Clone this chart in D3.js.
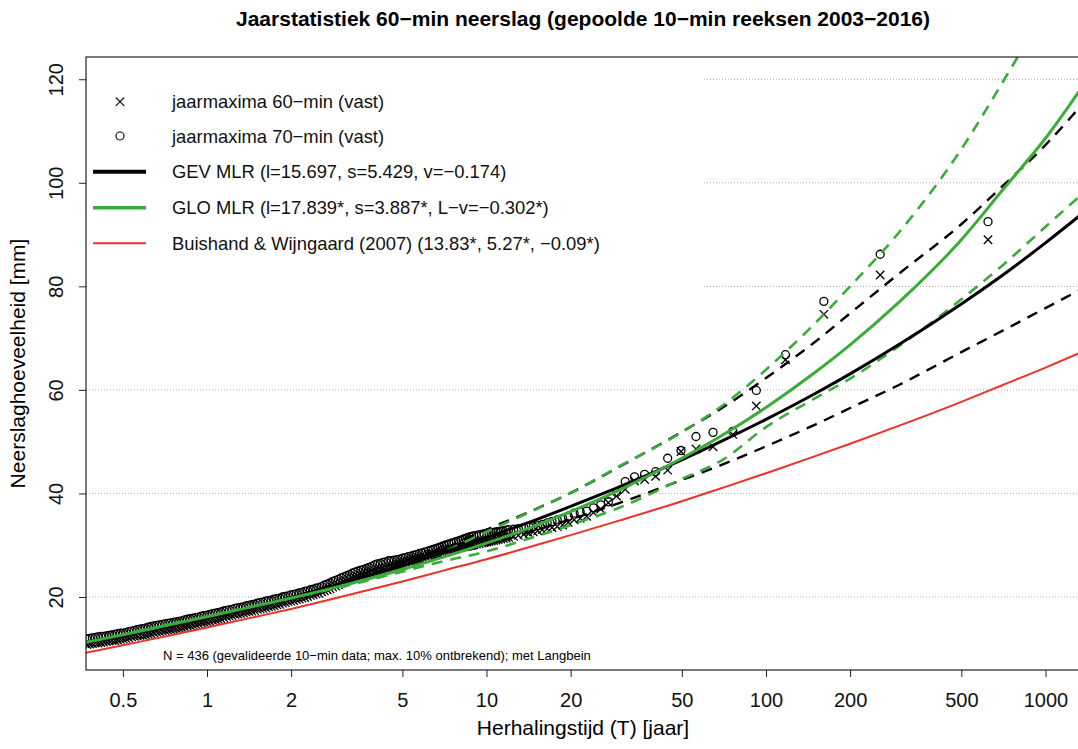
<!DOCTYPE html>
<html>
<head>
<meta charset="utf-8">
<script src="https://cdn.jsdelivr.net/npm/d3@7"></script>
<style>
  body { margin: 0; background: #fff; }
  svg { display: block; font-family: "Liberation Sans", Arial, Helvetica, sans-serif; }
</style>
</head>
<body>
<svg width="1078" height="749"></svg>
<script>
// ---- data ----
var xTicks = [0.5, 1, 2, 5, 10, 20, 50, 100, 200, 500, 1000],
    yTicks = [20, 40, 60, 80, 100, 120];

// plotting positions of the annual maxima (T in jaar)
var ptT = [
  0.3715, 0.3802, 0.3890, 0.3981, 0.4074, 0.4169, 0.4266, 0.4365, 0.4467, 0.4571,
  0.4677, 0.4786, 0.4898, 0.5012, 0.5129, 0.5248, 0.5370, 0.5495, 0.5623, 0.5754,
  0.5888, 0.6026, 0.6166, 0.6310, 0.6457, 0.6607, 0.6761, 0.6918, 0.7079, 0.7244,
  0.7413, 0.7586, 0.7762, 0.7943, 0.8128, 0.8318, 0.8511, 0.8710, 0.8913, 0.9120,
  0.9333, 0.9550, 0.9772, 1.000, 1.023, 1.047, 1.072, 1.096, 1.122, 1.148,
  1.175, 1.202, 1.230, 1.259, 1.288, 1.318, 1.349, 1.380, 1.413, 1.445,
  1.479, 1.514, 1.549, 1.585, 1.622, 1.660, 1.698, 1.738, 1.778, 1.820,
  1.862, 1.905, 1.950, 1.995, 2.042, 2.089, 2.138, 2.188, 2.239, 2.291,
  2.344, 2.399, 2.455, 2.512, 2.570, 2.630, 2.692, 2.754, 2.818, 2.884,
  2.951, 3.020, 3.090, 3.162, 3.236, 3.311, 3.388, 3.467, 3.548, 3.631,
  3.715, 3.802, 3.890, 3.981, 4.074, 4.169, 4.266, 4.365, 4.467, 4.571,
  4.677, 4.786, 4.898, 5.012, 5.129, 5.248, 5.370, 5.495, 5.623, 5.754,
  5.888, 6.026, 6.20, 6.33, 6.45, 6.58, 6.70, 6.83, 6.95, 7.08,
  7.20, 7.35, 7.50, 7.65, 7.80, 7.95, 8.10, 8.25, 8.40, 8.55,
  8.70, 8.85, 9.00, 9.20, 9.40, 9.60, 9.80, 10.0, 10.2, 10.4,
  10.6, 10.8, 11.0, 11.25, 11.5, 11.75, 12.0, 12.5, 13.0, 13.6,
  14.2, 14.70, 15.25, 15.84, 16.48, 17.16, 17.91, 18.72, 19.61, 20.58,
  21.64, 22.83, 24.15, 25.63, 27.29, 29.19, 31.35, 33.86, 36.80, 40.28,
  44.49, 49.66, 56.17, 64.63, 76.06, 92.35, 117.4, 161.1, 256.2, 622.9
];

// jaarmaxima 60-min (vast), mm
var max60 = [
  10.8, 10.9, 11.0, 11.1, 11.1, 11.2, 11.3, 11.4, 11.5, 11.6,
  11.6, 11.7, 11.8, 11.9, 12.0, 12.1, 12.3, 12.4, 12.5, 12.6,
  12.6, 12.7, 12.8, 12.9, 13.1, 13.2, 13.3, 13.4, 13.5, 13.6,
  13.7, 13.8, 13.9, 14.0, 14.1, 14.2, 14.4, 14.5, 14.6, 14.7,
  14.8, 15.0, 15.1, 15.2, 15.3, 15.5, 15.6, 15.7, 15.8, 16.0,
  16.2, 16.3, 16.4, 16.6, 16.7, 16.8, 16.9, 17.1, 17.2, 17.3,
  17.4, 17.6, 17.7, 17.8, 17.9, 18.1, 18.2, 18.3, 18.5, 18.6,
  18.8, 18.9, 19.1, 19.2, 19.3, 19.5, 19.6, 19.8, 19.9, 20.1,
  20.3, 20.4, 20.6, 20.7, 21.0, 21.2, 21.4, 21.6, 21.9, 22.1,
  22.4, 22.7, 22.9, 23.1, 23.3, 23.6, 23.8, 24.0, 24.2, 24.3,
  24.6, 24.8, 25.0, 25.1, 25.3, 25.4, 25.6, 25.7, 25.9, 26.0,
  26.2, 26.4, 26.5, 26.7, 26.8, 27.0, 27.1, 27.3, 27.4, 27.6,
  27.7, 27.9, 28.1, 28.25, 28.4, 28.5, 28.6, 28.7, 28.8, 28.9,
  29.0, 29.1, 29.2, 29.3, 29.4, 29.5, 29.6, 29.7, 29.8, 29.9,
  30.0, 30.05, 30.1, 30.2, 30.3, 30.4, 30.5, 30.6, 30.7, 30.8,
  30.9, 31.0, 31.1, 31.2, 31.3, 31.4, 31.5, 31.7, 31.9, 32.1,
  32.3, 32.6, 32.8, 33.0, 33.2, 33.4, 33.6, 33.9, 34.4, 34.9,
  35.2, 35.6, 36.3, 37.0, 38.2, 39.5, 40.8, 42.4, 42.7, 43.3,
  44.5, 48.1, 48.6, 49.0, 51.4, 56.9, 65.8, 74.6, 82.2, 89.0
];

// jaarmaxima 70-min (vast), mm
var max70 = [
  11.9, 12.0, 12.1, 12.2, 12.3, 12.4, 12.4, 12.5, 12.6, 12.7,
  12.8, 12.9, 13.0, 13.0, 13.1, 13.3, 13.4, 13.5, 13.7, 13.8,
  13.9, 14.0, 14.2, 14.3, 14.4, 14.5, 14.6, 14.7, 14.8, 14.9,
  15.0, 15.1, 15.2, 15.3, 15.4, 15.6, 15.7, 15.8, 15.9, 16.0,
  16.1, 16.3, 16.4, 16.5, 16.6, 16.8, 16.9, 17.0, 17.1, 17.3,
  17.4, 17.5, 17.6, 17.8, 17.9, 18.0, 18.1, 18.3, 18.4, 18.5,
  18.6, 18.8, 18.9, 19.0, 19.2, 19.3, 19.4, 19.6, 19.7, 19.8,
  20.0, 20.1, 20.2, 20.4, 20.5, 20.6, 20.8, 20.9, 21.1, 21.2,
  21.4, 21.5, 21.7, 21.8, 22.0, 22.3, 22.5, 22.7, 23.0, 23.2,
  23.4, 23.7, 23.9, 24.1, 24.3, 24.6, 24.8, 25.0, 25.2, 25.3,
  25.5, 25.7, 25.9, 26.2, 26.4, 26.5, 26.7, 26.8, 27.0, 27.0,
  27.1, 27.2, 27.3, 27.5, 27.6, 27.8, 27.9, 28.1, 28.2, 28.4,
  28.5, 28.7, 28.9, 29.05, 29.2, 29.35, 29.5, 29.65, 29.8, 29.95,
  30.1, 30.25, 30.4, 30.55, 30.7, 30.85, 31.0, 31.15, 31.3, 31.45,
  31.6, 31.7, 31.8, 31.9, 32.0, 32.1, 32.2, 32.3, 32.4, 32.45,
  32.5, 32.55, 32.6, 32.7, 32.8, 32.9, 33.0, 33.1, 33.2, 33.4,
  33.5, 33.6, 33.8, 34.0, 34.3, 34.6, 34.9, 35.2, 35.6, 36.2,
  36.4, 36.6, 37.2, 37.8, 38.4, 40.2, 42.3, 43.2, 43.7, 44.2,
  46.8, 48.3, 51.0, 51.8, 52.0, 59.9, 66.8, 77.1, 86.2, 92.5
];

// fitted curves, read at these return periods
var curveT = [0.35, 0.5, 0.7, 1, 1.5, 2, 3, 5, 7, 10, 15, 20, 30, 50, 70, 100, 150, 200, 300, 500, 700, 1000, 1500];
var gev   = [11.0, 12.6, 14.2, 16.0, 18.2, 19.9, 22.5, 26.0, 28.6, 31.5, 34.9, 37.5, 41.3, 46.5, 50.2, 54.3, 59.3, 63.1, 68.8, 76.6, 82.1, 88.4, 96.0];
var gevHi = [11.0, 12.6, 14.2, 16.0, 18.2, 19.9, 22.7, 26.4, 29.3, 33.0, 37.0, 40.1, 45.2, 51.9, 56.6, 62.3, 69.3, 74.8, 82.5, 92.0, 99.3, 107.3, 118.0];
var gevLo = [11.0, 12.6, 14.2, 16.0, 18.2, 19.9, 22.3, 25.6, 27.9, 30.0, 32.9, 35.0, 38.2, 42.6, 45.6, 49.1, 53.3, 56.5, 61.0, 67.3, 71.4, 75.8, 80.8];
var glo   = [11.0, 12.7, 14.4, 16.2, 18.3, 19.8, 22.1, 25.3, 27.7, 30.4, 33.8, 36.5, 40.7, 46.8, 51.3, 56.6, 63.4, 68.7, 77.0, 89.0, 98.5, 108.6, 122.1];
var gloHi = [11.0, 12.7, 14.4, 16.2, 18.3, 19.8, 22.3, 25.8, 28.7, 32.6, 36.9, 40.1, 45.3, 51.8, 57.0, 63.9, 72.9, 80.0, 90.5, 106.5, 119.3, 133.6, 152.0];
var gloLo = [11.0, 12.7, 14.4, 16.2, 18.3, 19.8, 21.9, 24.9, 26.9, 28.8, 31.7, 33.9, 37.3, 42.8, 46.5, 52.8, 58.4, 62.2, 68.5, 77.5, 84.0, 91.5, 100.0];
var bw07  = [9.0, 10.7, 12.3, 14.1, 16.2, 17.7, 20.0, 23.0, 25.1, 27.3, 30.0, 31.95, 34.8, 38.5, 41.1, 43.9, 47.2, 49.6, 53.1, 57.7, 60.9, 64.3, 68.4];

var legendLabels = [
  "jaarmaxima 60\u2212min (vast)",
  "jaarmaxima 70\u2212min (vast)",
  "GEV MLR (l=15.697, s=5.429, v=\u22120.174)",
  "GLO MLR (l=17.839*, s=3.887*, L\u2212v=\u22120.302*)",
  "Buishand & Wijngaard (2007) (13.83*, 5.27*, \u22120.09*)"
];

// ---- layout ----
var svg = d3.select("svg");
var pL = 86, pR = 1080, pT = 57, pB = 670;
var green = "#3aac3a", red = "#f0302a";
var cross = "M-4.2,-4.2L4.2,4.2M-4.2,4.2L4.2,-4.2";

var x = d3.scaleLog().domain([0.369, 1329]).range([pL, pR]);
var y = d3.scaleLinear().domain([5.9, 124.3]).range([pB, pT]);

svg.append("clipPath").attr("id", "clip")
   .append("rect")
   .attr("x", pL).attr("y", pT)
   .attr("width", pR - pL).attr("height", pB - pT);

// grid
svg.append("g")
   .selectAll("line")
   .data(yTicks)
   .enter().append("line")
   .attr("x1", pL).attr("x2", pR)
   .attr("y1", d => y(d)).attr("y2", d => y(d))
   .attr("stroke", "#a8a8a8")
   .attr("stroke-width", 1)
   .attr("stroke-dasharray", "1,2");

// legend background (covers the grid)
svg.append("rect")
   .attr("x", pL + 1).attr("y", pT + 1)
   .attr("width", 616).attr("height", 232)
   .attr("fill", "#fff");

var plot = svg.append("g").attr("clip-path", "url(#clip)");

var pts = ptT.map((t, i) => ({t: t, a: max60[i], b: max70[i]}));

// 70-min circles
plot.append("g")
    .selectAll("circle")
    .data(pts)
    .enter().append("circle")
    .attr("cx", d => x(d.t))
    .attr("cy", d => y(d.b))
    .attr("r", 4)
    .attr("fill", "none")
    .attr("stroke", "#000")
    .attr("stroke-width", 1.3);

// 60-min crosses
plot.append("g")
    .selectAll("path")
    .data(pts)
    .enter().append("path")
    .attr("transform", d => `translate(${x(d.t)},${y(d.a)})`)
    .attr("d", cross)
    .attr("fill", "none")
    .attr("stroke", "#000")
    .attr("stroke-width", 1.3);

var line = d3.line()
             .x(d => x(d[0]))
             .y(d => y(d[1]))
             .curve(d3.curveMonotoneX);

function curve(vals, color, width, dash) {
  plot.append("path")
      .datum(curveT.map((t, i) => [t, vals[i]]))
      .attr("d", line)
      .attr("fill", "none")
      .attr("stroke", color)
      .attr("stroke-width", width)
      .attr("stroke-dasharray", dash || null);
}

curve(gevHi, "#000", 2.4, "11,8");
curve(gevLo, "#000", 2.4, "11,8");
curve(gloHi, green, 2.6, "11,8");
curve(gloLo, green, 2.6, "11,8");
curve(gev, "#000", 3);
curve(glo, green, 3);
curve(bw07, red, 2);

// axes
var xAxis = svg.append("g")
   .attr("transform", `translate(0,${pB})`)
   .call(d3.axisBottom(x).tickValues(xTicks).tickFormat(d => d).tickSize(7).tickSizeOuter(0));
xAxis.select(".domain").remove();
xAxis.selectAll("text")
     .attr("y", 22.5)
     .style("font-size", "20px")
     .attr("fill", "#111");

var yAxis = svg.append("g")
   .attr("transform", `translate(${pL},0)`)
   .call(d3.axisLeft(y).tickValues(yTicks).tickSize(7).tickSizeOuter(0));
yAxis.select(".domain").remove();
yAxis.selectAll("text")
     .attr("transform", "rotate(-90)")
     .attr("x", 0).attr("y", -23).attr("dy", 0)
     .attr("text-anchor", "middle")
     .style("font-size", "20px")
     .attr("fill", "#111");
svg.selectAll(".tick line").attr("stroke", "#222");

svg.append("rect")
   .attr("x", pL).attr("y", pT)
   .attr("width", pR - pL).attr("height", pB - pT)
   .attr("fill", "none")
   .attr("stroke", "#222")
   .attr("stroke-width", 1.2);

// titles
svg.append("text")
   .attr("x", (pL + pR) / 2).attr("y", 26)
   .attr("text-anchor", "middle")
   .style("font-size", "21px").style("font-weight", "bold")
   .text("Jaarstatistiek 60\u2212min neerslag (gepoolde 10\u2212min reeksen 2003\u22122016)");

svg.append("text")
   .attr("x", (pL + pR) / 2).attr("y", 735)
   .attr("text-anchor", "middle")
   .style("font-size", "21px")
   .text("Herhalingstijd (T) [jaar]");

svg.append("text")
   .attr("transform", `translate(25,${(pT + pB) / 2}) rotate(-90)`)
   .attr("text-anchor", "middle")
   .style("font-size", "21px")
   .text("Neerslaghoeveelheid [mm]");

svg.append("text")
   .attr("x", 163).attr("y", 659.5)
   .style("font-size", "13px")
   .text("N = 436 (gevalideerde 10\u2212min data; max. 10% ontbrekend); met Langbein");

// legend
var legY = [101.7, 136, 171.7, 207.7, 243.3];
var leg = svg.append("g");
leg.append("path")
   .attr("transform", `translate(120,${legY[0]})`)
   .attr("d", cross)
   .attr("stroke", "#111").attr("stroke-width", 1.2);
leg.append("circle")
   .attr("cx", 120).attr("cy", legY[1]).attr("r", 4)
   .attr("fill", "none").attr("stroke", "#111").attr("stroke-width", 1.2);
[["#000", 4], [green, 3.6], [red, 2]].forEach((s, i) => {
  leg.append("line")
     .attr("x1", 93).attr("x2", 146)
     .attr("y1", legY[i + 2]).attr("y2", legY[i + 2])
     .attr("stroke", s[0]).attr("stroke-width", s[1]);
});
leg.selectAll("text")
   .data(legendLabels)
   .enter().append("text")
   .attr("x", 172)
   .attr("y", (d, i) => legY[i] + 6.5)
   .style("font-size", "18.4px")
   .attr("fill", "#111")
   .text(d => d);
</script>
</body>
</html>
